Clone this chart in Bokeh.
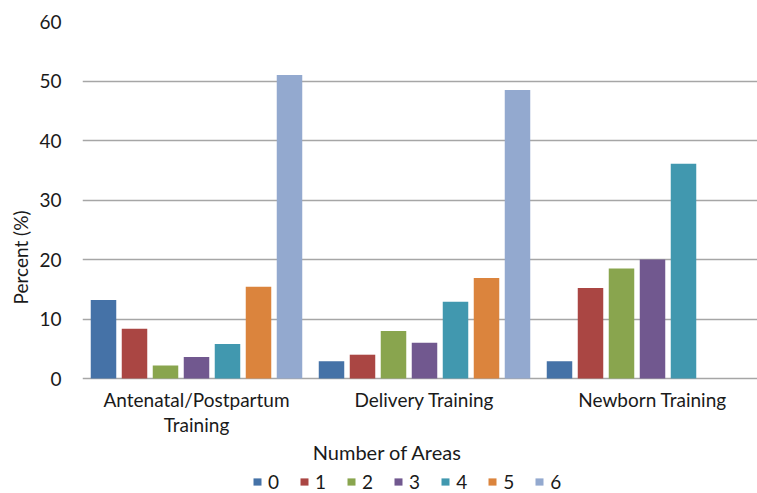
from bokeh.plotting import figure
from bokeh.models import FixedTicker, Legend, LegendItem, Label, Range1d, ColumnDataSource
from bokeh.core.properties import value
from bokeh.embed import file_html
from bokeh.resources import INLINE

categories = ["Antenatal/Postpartum\nTraining", "Delivery Training", "Newborn Training"]
series = ["0", "1", "2", "3", "4", "5", "6"]
v0 = [13.2, 2.9, 2.9]
v1 = [8.35, 4.0, 15.2]
v2 = [2.2, 8.0, 18.5]
v3 = [3.6, 6.0, 20.0]
v4 = [5.8, 12.9, 36.1]
v5 = [15.4, 16.9, 0.0]
v6 = [51.0, 48.5, 0.0]
values = [v0, v1, v2, v3, v4, v5, v6]
colors = ["#4572A7", "#AA4643", "#89A54E", "#71588F", "#4198AF", "#DB843D", "#93A9CF"]
y_ticks = [0, 10, 20, 30, 40, 50, 60]
x_title = "Number of Areas"
y_title = "Percent (%)"

FONT = "Lato"
FS = "19px"
TXT = "#1a1a1a"
PX_PER_UNIT = 357 / 60  # vertical pixels per percent

p = figure(width=757, height=493, output_backend="svg", toolbar_location=None,
           x_range=Range1d(0, 675 / 228), y_range=Range1d(-115 / PX_PER_UNIT, 60),
           x_axis_location=None,
           min_border_left=82, min_border_right=0, min_border_top=21, min_border_bottom=0)
p.outline_line_color = None
p.background_fill_color = "white"
p.border_fill_color = "white"

centers = [i + 0.5 for i in range(len(categories))]
step = 31 / 228
bw = 25.5 / 228
renderers = []
for k, (vals, col) in enumerate(zip(values, colors)):
    xs = [c + (k - 3) * step for c in centers]
    r = p.vbar(x=xs, top=vals, bottom=0, width=bw, fill_color=col, line_color=None)
    renderers.append(r)

# category labels under the axis line
cat_src = ColumnDataSource(dict(x=centers, y=[-9 / PX_PER_UNIT] * 3, text=categories))
p.text(x="x", y="y", text="text", source=cat_src, text_align="center", text_baseline="top",
       text_font=value(FONT), text_font_size=FS, text_color=TXT, text_line_height=1.1)

# y axis
p.yaxis.ticker = FixedTicker(ticks=y_ticks)
p.yaxis.bounds = (0, 60)
p.yaxis.axis_line_color = None
p.yaxis.major_tick_line_color = None
p.yaxis.minor_tick_line_color = None
p.yaxis.major_label_text_font = FONT
p.yaxis.major_label_text_font_size = FS
p.yaxis.major_label_text_color = TXT
p.yaxis.major_label_standoff = 15
p.yaxis.axis_label = y_title
p.yaxis.axis_label_text_font = FONT
p.yaxis.axis_label_text_font_size = FS
p.yaxis.axis_label_text_font_style = "normal"
p.yaxis.axis_label_text_color = TXT
p.yaxis.axis_label_standoff = 4

p.xgrid.grid_line_color = None
p.ygrid.grid_line_color = "#a6a6a6"
p.ygrid.grid_line_width = 1.5
p.ygrid.ticker = FixedTicker(ticks=y_ticks)

title = Label(x=(387 - 82) / 228, y=-(451 - 378) / PX_PER_UNIT, text=x_title,
              text_align="center", text_baseline="middle", text_font=FONT,
              text_font_size="20px", text_color=TXT)
p.add_layout(title)

legend = Legend(items=[LegendItem(label=s, renderers=[r]) for s, r in zip(series, renderers)],
                orientation="horizontal", location=(170, 0),
                glyph_width=10, glyph_height=9, label_standoff=6, label_width=10,
                spacing=20, padding=0, margin=0, border_line_color=None,
                background_fill_alpha=0, label_text_font=FONT, label_text_font_size=FS,
                label_text_color=TXT)
p.add_layout(legend, "center")

open("out.html", "w").write(file_html(p, INLINE))
